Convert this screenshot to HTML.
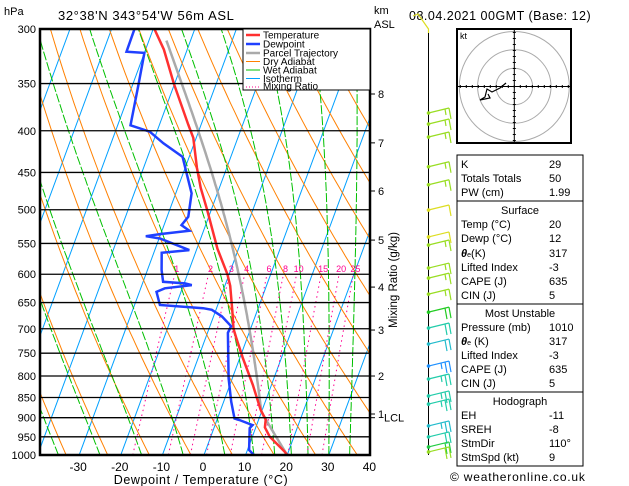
<!DOCTYPE html>
<html><head><meta charset="utf-8">
<style>
html,body{margin:0;padding:0;background:#fff;}
svg{display:block;font-family:"Liberation Sans",sans-serif;}
</style></head>
<body>
<svg id="chart" width="629" height="486" viewBox="0 0 629 486" xmlns="http://www.w3.org/2000/svg">
<defs><clipPath id="plotclip"><rect x="40" y="29" width="330" height="426"/></clipPath></defs>
<rect x="0" y="0" width="629" height="486" fill="#fff"/>
<text x="4" y="15" font-size="11">hPa</text>
<text x="58" y="20" font-size="13" letter-spacing="0.6">32°38'N  343°54'W  56m  ASL</text>
<text x="374" y="14" font-size="11">km</text>
<text x="374" y="28" font-size="11">ASL</text>
<text x="409" y="20" font-size="12.5" letter-spacing="0.5">08.04.2021  00GMT  (Base: 12)</text>
<g id="grid" clip-path="url(#plotclip)"></g>
<g id="profiles" clip-path="url(#plotclip)"></g>
<g id="axes"></g>
<g id="legend">
 <rect x="243" y="29" width="127" height="61" fill="#fff" stroke="#000" stroke-width="1"/>
 <line x1="246" y1="35" x2="260" y2="35" stroke="#ff3030" stroke-width="2.5"/><text x="263" y="38.5" font-size="10">Temperature</text>
 <line x1="246" y1="44" x2="260" y2="44" stroke="#2040ff" stroke-width="2.5"/><text x="263" y="47.5" font-size="10">Dewpoint</text>
 <line x1="246" y1="53" x2="260" y2="53" stroke="#aaa" stroke-width="2.5"/><text x="263" y="56.5" font-size="10">Parcel Trajectory</text>
 <line x1="246" y1="61.5" x2="260" y2="61.5" stroke="#ff8000" stroke-width="1"/><text x="263" y="65" font-size="10">Dry Adiabat</text>
 <line x1="246" y1="70" x2="260" y2="70" stroke="#00c000" stroke-width="1"/><text x="263" y="73.5" font-size="10">Wet Adiabat</text>
 <line x1="246" y1="78.5" x2="260" y2="78.5" stroke="#00a0ff" stroke-width="1"/><text x="263" y="82" font-size="10">Isotherm</text>
 <line x1="246" y1="87" x2="260" y2="87" stroke="#ff0090" stroke-width="1" stroke-dasharray="1 2"/><text x="263" y="89.5" font-size="10">Mixing Ratio</text>
</g>
<g id="barbs"></g>
<g id="hodo"></g>
<g id="stats" font-size="11">
 <rect x="457" y="155" width="126" height="311" fill="none" stroke="#000"/>
 <line x1="457" y1="201" x2="583" y2="201" stroke="#000"/>
 <line x1="457" y1="304" x2="583" y2="304" stroke="#000"/>
 <line x1="457" y1="392" x2="583" y2="392" stroke="#000"/>
 <text x="461" y="168">K</text><text x="549" y="168">29</text>
 <text x="461" y="182">Totals Totals</text><text x="549" y="182">50</text>
 <text x="461" y="196">PW (cm)</text><text x="549" y="196">1.99</text>
 <text x="520" y="214" text-anchor="middle">Surface</text>
 <text x="461" y="228">Temp (°C)</text><text x="549" y="228">20</text>
 <text x="461" y="242">Dewp (°C)</text><text x="549" y="242">12</text>
 <text x="461" y="257"><tspan font-weight="bold" font-style="italic">θ</tspan><tspan font-size="7">e</tspan>(K)</text><text x="549" y="257">317</text>
 <text x="461" y="271">Lifted Index</text><text x="549" y="271">-3</text>
 <text x="461" y="285">CAPE (J)</text><text x="549" y="285">635</text>
 <text x="461" y="299">CIN (J)</text><text x="549" y="299">5</text>
 <text x="520" y="317" text-anchor="middle">Most Unstable</text>
 <text x="461" y="331">Pressure (mb)</text><text x="549" y="331">1010</text>
 <text x="461" y="345"><tspan font-weight="bold" font-style="italic">θ</tspan><tspan font-size="7">e</tspan> (K)</text><text x="549" y="345">317</text>
 <text x="461" y="359">Lifted Index</text><text x="549" y="359">-3</text>
 <text x="461" y="373">CAPE (J)</text><text x="549" y="373">635</text>
 <text x="461" y="387">CIN (J)</text><text x="549" y="387">5</text>
 <text x="520" y="405" text-anchor="middle">Hodograph</text>
 <text x="461" y="419">EH</text><text x="549" y="419">-11</text>
 <text x="461" y="433">SREH</text><text x="549" y="433">-8</text>
 <text x="461" y="447">StmDir</text><text x="549" y="447">110°</text>
 <text x="461" y="461">StmSpd (kt)</text><text x="549" y="461">9</text>
</g>
<text x="450" y="481" font-size="12" letter-spacing="0.8">© weatheronline.co.uk</text>
</svg>
<script>
// ---- data ----
const tempP = [1000,990,950,925,905,880,820,760,720,700,665,620,600,558,500,470,444,408,393,350,318,300];
const tempT = [20,19,14.2,12.2,11.7,9.6,5.5,0.7,-2.5,-4.1,-6,-8.7,-10.4,-15.1,-21,-24.5,-27.2,-30.7,-33.1,-40.2,-45.6,-49.7];
const dewP = [1000,986,927,919,906,902,860,805,708,695,676,663.5,660.5,654.5,630.6,624.4,618.7,615.7,612.9,592.9,564.8,560.5,542.3,538.8,535.7,530.7,522.2,510,477.3,449,430.6,414.4,401,393.9,351,321,319.9,300];
const dewT = [12,10.4,8.6,9,5.4,4.1,1.8,-0.9,-5.1,-4.9,-8,-11,-13.2,-23.9,-25.9,-24.2,-18,-19.8,-25.2,-26.6,-28.1,-21.7,-29.8,-33.4,-30.2,-23.4,-25.8,-24.9,-26.2,-29.4,-31.6,-37.4,-41.7,-46.9,-48.6,-50,-54.4,-54.5];
const surfaceT = 20, surfaceTd = 12;
const pressureTicks = [300,350,400,450,500,550,600,650,700,750,800,850,900,950,1000];
const tempTicks = [-30,-20,-10,0,10,20,30,40];
const mixRatios = [1,2,3,4,6,8,10,15,20,25];
const kmLevels = [1,2,3,4,5,6,7,8];
const kmPressure = [890.7,800,702.5,622.2,544.8,474.2,413.9,360.5];
const lclPressure = 900;
const barbP = [380.4,392.4,407.1,442.8,465.9,500.4,540,552.4,589.6,606.6,634.7,667.8,698.5,730.9,777.8,806.8,846.4,866,921.2,950.3,977.6,991.5];
const barbSpd = [15,15,15,15,15,10,10,15,15,15,15,20,20,20,25,25,25,25,25,20,20,20];
const barbCol = ["#99dd22","#99dd22","#99dd22","#99dd22","#99dd22","#dddd22","#dddd22","#99dd22","#99dd22","#99dd22","#99dd22","#22cc22","#22ccaa","#22bbcc","#1e90ff","#22ccaa","#22ccaa","#22ccaa","#22bbcc","#22ccaa","#22cc44","#99dd22"];

// ---- axes functions ----
const NS="http://www.w3.org/2000/svg";
function Y(p){return 29+353.8*Math.log(p/300);}
function X(T,p){return 204+4.16*T+0.369*(455-Y(p));}
function mk(tag,attrs,parent){const e=document.createElementNS(NS,tag);for(const k in attrs)e.setAttribute(k,attrs[k]);parent.appendChild(e);return e;}
function pts(arr){return arr.map(a=>a[0].toFixed(1)+","+a[1].toFixed(1)).join(" ");}
const gridG=document.getElementById('grid'),profG=document.getElementById('profiles'),axesG=document.getElementById('axes');
function es(T){return 6.112*Math.exp(17.67*T/(T+243.5));}
function rs(T,p){const e=es(T);return 0.622*e/(p-e);}
function moistStep(T,p,dp){const Tk=T+273.15,r=rs(T,p);const g=(287*Tk+2.5e6*r)/(p*(1004+2.5e6*2.5e6*r*0.622/(287*Tk*Tk)));return T+g*dp;}

// isotherms
for(let T=-130;T<=40;T+=10){
 const l=mk('line',{x1:X(T,1000),y1:Y(1000),x2:X(T,280),y2:Y(280),stroke:'#00a0ff','stroke-width':1},gridG);
 
 
}
// dry adiabats
for(let th=230;th<=480;th+=10){
 const a=[];for(let p=1000;p>=290;p-=10)a.push([X(th*Math.pow(p/1000,0.286)-273.15,p),Y(p)]);
 const l=mk('polyline',{points:pts(a),fill:'none',stroke:'#ff8000','stroke-width':1},gridG);
 
 
}
// wet adiabats
[-35,-25,-15,-5,5,12,17,21,25,30,35,40].forEach(T0=>{
 let T=T0;const a=[[X(T,1000),Y(1000)]];
 for(let p=1000;p>290;p-=5){T=moistStep(T,p,-5);a.push([X(T,p-5),Y(p-5)]);}
 const l=mk('polyline',{points:pts(a),fill:'none',stroke:'#00c000','stroke-width':1,'stroke-dasharray':'9 2'},gridG);
 
 
});
// mixing ratio
mixRatios.forEach(w=>{
 const a=[];for(let p=1000;p>=600;p-=10){const e=w/1000*p/(0.622+w/1000);const L=Math.log(e/6.112);a.push([X(243.5*L/(17.67-L),p),Y(p)]);}
 const l=mk('polyline',{points:pts(a),fill:'none',stroke:'#ff0090','stroke-width':1,'stroke-dasharray':'1.5 3.5'},gridG);
 
 
 const t=mk('text',{x:a[a.length-1][0]+2,y:272,'font-size':9,fill:'#ff0090','text-anchor':'middle'},profG);
 t.textContent=w;
 
 
});
// pressure lines
pressureTicks.forEach(p=>{
 const l=mk('line',{x1:40,x2:370,y1:Y(p),y2:Y(p),stroke:'#000','stroke-width':1.3},axesG);
 
 
 const t=mk('text',{x:36,y:Y(p)+4,'font-size':11,'text-anchor':'end'},axesG);
 t.textContent=p;
 
 
});
// parcel
(function(){
 const w=rs(surfaceTd,1000);const a=[];let T=surfaceT,p=1000,moist=false;const th=(surfaceT+273.15);
 while(p>=310){
  a.push([X(T,p),Y(p)]);
  if(!moist){const pn=p-5;const Tn=th*Math.pow(pn/1000,0.286)-273.15;const e=w*pn/(0.622+w);const L=Math.log(e/6.112);const Td=243.5*L/(17.67-L);if(Tn<=Td)moist=true;T=Tn;p=pn;}
  else{T=moistStep(T,p,-5);p-=5;}
 }
 const l=mk('polyline',{points:pts(a),fill:'none',stroke:'#aaa','stroke-width':2.5},profG);
 
 
})();
// temp and dewpoint
const tempLine=mk('polyline',{points:pts(tempP.map((p,i)=>[X(tempT[i],p),Y(p)])),fill:'none',stroke:'#ff3030','stroke-width':2.5},profG);


const dewLine=mk('polyline',{points:pts(dewP.map((p,i)=>[X(dewT[i],p),Y(p)])),fill:'none',stroke:'#2040ff','stroke-width':2.5},profG);



// frame
const frameRect=mk('rect',{x:40,y:29,width:330,height:426,fill:'none',stroke:'#000','stroke-width':2.5},axesG);


tempTicks.forEach(T=>{
 const t=mk('text',{x:203+4.16*T,y:471,'font-size':12,'text-anchor':'middle'},axesG);
 t.textContent=T;
 
 
});
const xTitle=mk('text',{x:201,y:484,'font-size':12.5,'text-anchor':'middle','letter-spacing':'0.6'},axesG);
xTitle.textContent='Dewpoint / Temperature (°C)';


kmLevels.forEach((k,i)=>{
 const y=Y(kmPressure[i]);
 const l=mk('line',{x1:370,x2:375,y1:y,y2:y,stroke:'#000'},axesG);
 
 
 const t=mk('text',{x:378,y:y+4,'font-size':11},axesG);
 t.textContent=k;
 
 
});
const lclTick=mk('line',{x1:370,x2:375,y1:Y(lclPressure),y2:Y(lclPressure),stroke:'#000'},axesG);


const lclText=mk('text',{x:384,y:Y(lclPressure)+4,'font-size':11},axesG);
lclText.textContent='LCL';


const mrTitle=mk('text',{x:397,y:280,'font-size':11.5,'text-anchor':'middle',transform:'rotate(-90 397 280)'},axesG);
mrTitle.textContent='Mixing Ratio (g/kg)';



// wind barbs
const barbG=document.getElementById('barbs');
const barbStaff=mk('line',{x1:428.5,x2:428.5,y1:29,y2:455,stroke:'#000'},barbG);


const topBarb=mk('polyline',{points:'428.5,33 428.5,29 418,14 413,16',fill:'none',stroke:'#dddd22','stroke-width':1.2},barbG);


barbP.forEach((p,i)=>{
 const y=Y(p),c=barbCol[i],n=Math.floor(barbSpd[i]/10),half=(barbSpd[i]%10)>=5;
 const g=mk('g',{stroke:c,'stroke-width':1.2,fill:'none'},barbG);
 
 
 mk('circle',{cx:428.5,cy:y,r:1.8,fill:c,stroke:'none'},g);
 mk('line',{x1:428.5,y1:y,x2:449,y2:y-5},g);
 for(let k=0;k<n;k++){const bx=449-k*4,by=y-5+k*1;mk('line',{x1:bx,y1:by,x2:bx+2,y2:by+11},g);}
 if(half){const bx=449-n*4,by=y-5+n;mk('line',{x1:bx,y1:by,x2:bx+1,y2:by+6},g);}
});

// hodograph
const hodoG=document.getElementById('hodo');
const hodoFrame=mk('rect',{x:457,y:29,width:114,height:114,fill:'#fff',stroke:'#000','stroke-width':2},hodoG);


[18.3,36.7,55].forEach(r=>{
 const c=mk('circle',{cx:514.3,cy:86.5,r:r,fill:'none',stroke:'#aaa'},hodoG);
 
 
});
mk('line',{x1:458,x2:570,y1:86.5,y2:86.5,stroke:'#000'},hodoG);
mk('line',{x1:514.3,x2:514.3,y1:30,y2:142,stroke:'#000'},hodoG);
for(let d=-54;d<=54;d+=6){mk('line',{x1:514.3+d,x2:514.3+d,y1:85,y2:88,stroke:'#000'},hodoG);mk('line',{x1:512.8,x2:515.8,y1:86.5+d,y2:86.5+d,stroke:'#000'},hodoG);}
const ktText=mk('text',{x:460,y:39,'font-size':9},hodoG);
ktText.textContent='kt';


const hodoTrace=mk('polyline',{points:'506,83 500,88 492,92 487,89 485,97 480,100 490,98 488,94',fill:'none',stroke:'#000','stroke-width':1.2},hodoG);


</script>
</body></html>
